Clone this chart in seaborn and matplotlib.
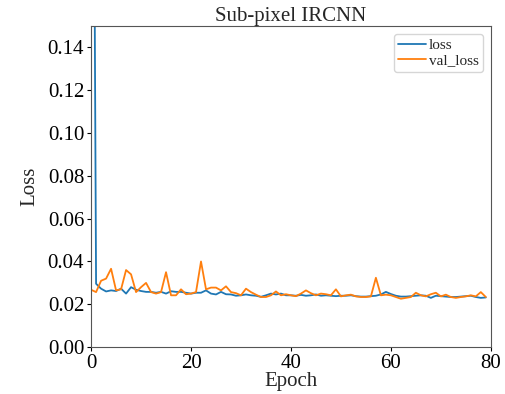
import matplotlib
matplotlib.use('Agg')

import matplotlib.pyplot as plt
import pandas as pd
import numpy as np
import seaborn as sns

# training history (epoch 0 loss is far above the axis)
loss = [0.5, 0.0296, 0.0273, 0.026, 0.0265, 0.0262, 0.0273, 0.025, 0.028, 0.0268,
        0.0262, 0.0258, 0.0258, 0.0254, 0.0258, 0.025, 0.0261, 0.0258, 0.0258, 0.0254,
        0.025, 0.0254, 0.0254, 0.0265, 0.025, 0.0246, 0.0258, 0.0247, 0.0246, 0.0240,
        0.0242, 0.0246, 0.0242, 0.0240, 0.0235, 0.0242, 0.025, 0.0246, 0.025, 0.0242,
        0.0242, 0.0240, 0.0244, 0.0240, 0.0242, 0.0246, 0.0240, 0.0242, 0.0240, 0.0238,
        0.0240, 0.0240, 0.0242, 0.0238, 0.0236, 0.0236, 0.0238, 0.0240, 0.0246, 0.0258,
        0.0248, 0.0240, 0.0236, 0.0236, 0.0238, 0.0240, 0.0242, 0.0240, 0.0230, 0.0240,
        0.0238, 0.0236, 0.0234, 0.0234, 0.0236, 0.0238, 0.0240, 0.0234, 0.0230, 0.0232]
val_loss = [0.0268, 0.0257, 0.031, 0.032, 0.0366, 0.0265, 0.027, 0.036, 0.034, 0.0257,
            0.028, 0.030, 0.0257, 0.025, 0.0257, 0.035, 0.0242, 0.0242, 0.027, 0.0247,
            0.025, 0.0257, 0.040, 0.027, 0.0278, 0.0278, 0.0265, 0.0284, 0.0257, 0.0252,
            0.0242, 0.0273, 0.0257, 0.0245, 0.0234, 0.0234, 0.0242, 0.026, 0.0242, 0.0247,
            0.0242, 0.0238, 0.025, 0.0265, 0.0252, 0.0242, 0.025, 0.0247, 0.0242, 0.027,
            0.0237, 0.0242, 0.0245, 0.0237, 0.0234, 0.0234, 0.0237, 0.0324, 0.0242, 0.0245,
            0.0242, 0.0234, 0.0226, 0.023, 0.0234, 0.0254, 0.0242, 0.0237, 0.0247, 0.0254,
            0.0237, 0.0245, 0.0234, 0.023, 0.0234, 0.0237, 0.0242, 0.0237, 0.0257, 0.0234]
epochs = list(range(len(loss)))

df = pd.DataFrame({'Epoch': epochs, 'loss': loss, 'val_loss': val_loss})
long = df.melt(id_vars='Epoch', var_name='series', value_name='Loss')

sns.set_style("ticks")
plt.rcParams['font.family'] = ['Liberation Serif', 'DejaVu Serif']

fig, ax = plt.subplots(figsize=(5.06, 3.94), dpi=100)
sns.lineplot(data=long, x='Epoch', y='Loss', hue='series',
             palette=['#1f77b4', '#ff7f0e'], linewidth=1.3, ax=ax)

ax.set_xlim(0, 80)
ax.set_ylim(0, 0.15)
ax.set_yticks(np.arange(0, 0.15, 0.02))
ax.set_yticklabels(['%.2f' % v for v in np.arange(0, 0.15, 0.02)])
ax.tick_params(labelsize=15, colors='black', length=3, pad=2)
ax.set_xlabel('Epoch', fontsize=15, labelpad=-1)
ax.set_ylabel('Loss', fontsize=15, labelpad=6)
ax.set_title('Sub-pixel IRCNN', fontsize=15, pad=3)
for s in ax.spines.values():
    s.set_visible(True)
    s.set_color('#555555')
leg = ax.legend(loc='upper right', fontsize=11, frameon=True, handlelength=1.8,
                handletextpad=0.2, borderpad=0.3, labelspacing=0.1)

fig.subplots_adjust(left=0.18, right=0.97, top=0.934, bottom=0.119)
plt.savefig('out.png', dpi=100)
